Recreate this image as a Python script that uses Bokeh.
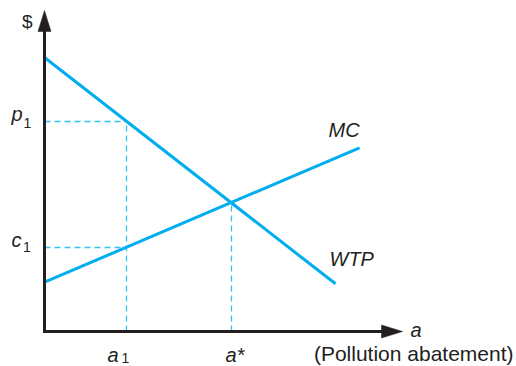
from bokeh.plotting import figure
from bokeh.models import Range1d
from bokeh.core.properties import value
from bokeh.embed import file_html
from bokeh.resources import INLINE

# ---- data ----
wtp_x = [0, 291]
wtp_y = [274, 47.7]
mc_x = [0, 315]
mc_y = [49.3, 183.7]
a1 = 82
p1 = 210
c1 = 84
a_star = 187
eq_y = 129
y_axis_top = 321
x_axis_end = 358

BLUE = "#00aeef"
DASH = "#33c3f2"
INK = "#231f20"
FONT = value("Liberation Sans")

p = figure(width=516, height=366, output_backend="svg", toolbar_location=None,
           x_range=Range1d(-44, 472), y_range=Range1d(-35, 331),
           min_border=0, min_border_left=0, min_border_right=0,
           min_border_top=0, min_border_bottom=0)
p.axis.visible = False
p.grid.visible = False
p.outline_line_color = None
p.background_fill_color = "white"
p.border_fill_color = "white"

# dashed guide lines
p.line([0, a1], [p1, p1], line_color=DASH, line_width=1.3, line_dash="6 4")
p.line([0, a1], [c1, c1], line_color=DASH, line_width=1.3, line_dash="6 4")
p.line([a1, a1], [0, p1], line_color=DASH, line_width=1.3, line_dash="6 4")
p.line([a_star, a_star], [0, eq_y], line_color=DASH, line_width=1.3, line_dash="6 4")

# curves
p.line(wtp_x, wtp_y, line_color=BLUE, line_width=3)
p.line(mc_x, mc_y, line_color=BLUE, line_width=3)

# axes with arrowheads
head_len, head_half = 21, 6.5
p.line([0, 0], [-1.5, y_axis_top - head_len + 2], line_color=INK, line_width=3)
p.line([-1.5, x_axis_end - head_len + 2], [0, 0], line_color=INK, line_width=3)
p.patch([0, -head_half, head_half], [y_axis_top, y_axis_top - head_len, y_axis_top - head_len],
        fill_color=INK, line_color=INK, line_width=0.5)
p.patch([x_axis_end, x_axis_end - head_len, x_axis_end - head_len], [0, head_half, -head_half],
        fill_color=INK, line_color=INK, line_width=0.5)

def label(x, y, t, size=20, style="italic", align="left"):
    p.text(x=[x], y=[y], text=[t], text_font=FONT, text_font_size=f"{size}px",
           text_font_style=style, text_color=INK, text_align=align,
           text_baseline="alphabetic")

label(-22.5, 310, "$", size=19, style="normal")
label(-33, 218, "p")
label(-21, 209, "1", size=14, style="normal")
label(-33, 92, "c")
label(-21.5, 84.6, "1", size=14, style="normal")
label(63, -23, "a")
label(77, -26.5, "1", size=14, style="normal")
label(181, -23, "a*")
label(366, 2, "a")
label(469, -22, "(Pollution abatement)", size=21, style="normal", align="right")
label(284, 202, "MC")
label(285, 73, "WTP")

open("out.html", "w").write(file_html(p, INLINE))
